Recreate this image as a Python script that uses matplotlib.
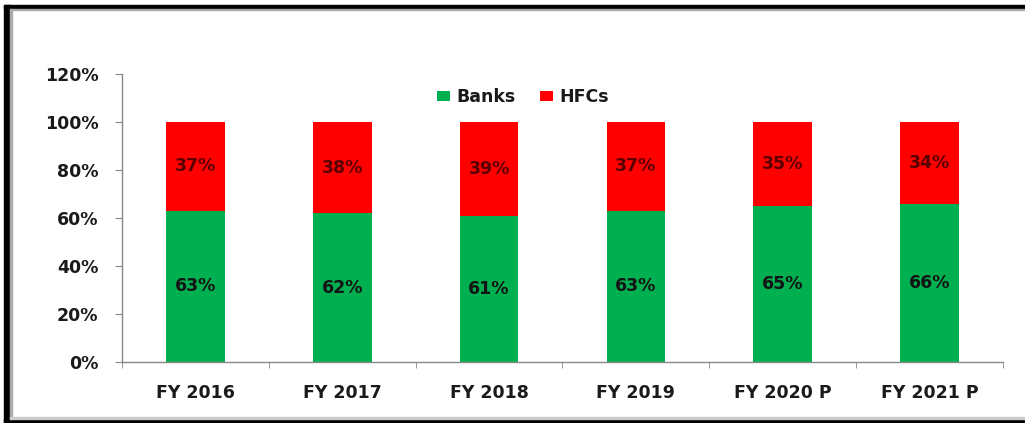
import matplotlib.pyplot as plt
from matplotlib.patches import Rectangle
from matplotlib.ticker import FixedLocator, PercentFormatter
import numpy as np

plt.rcParams['font.family'] = ['DejaVu Sans']

years = ['FY 2016', 'FY 2017', 'FY 2018', 'FY 2019', 'FY 2020 P', 'FY 2021 P']
banks = [63, 62, 61, 63, 65, 66]
hfcs = [37, 38, 39, 37, 35, 34]

green = '#00B050'
red = '#FF0000'
fs = 12.5

fig = plt.figure(figsize=(10.25, 4.23), dpi=100)
ax = fig.add_axes([122 / 1025, 1 - 362 / 423, 881 / 1025, 288 / 423])

x = np.arange(len(years))
ax.bar(x, banks, width=0.4, color=green, label='Banks')
ax.bar(x, hfcs, width=0.4, bottom=banks, color=red, label='HFCs')

for i in range(len(years)):
    ax.text(x[i], banks[i] / 2, f'{banks[i]}%', ha='center', va='center',
            fontsize=fs, fontweight='bold', color='#141414')
    ax.text(x[i], banks[i] + hfcs[i] / 2, f'{hfcs[i]}%', ha='center', va='center',
            fontsize=fs, fontweight='bold', color='#5a0000')

ax.set_xlim(-0.5, len(years) - 0.5)
ax.set_ylim(0, 120)
ax.set_yticks(range(0, 121, 20))
ax.yaxis.set_major_formatter(PercentFormatter(decimals=0))
ax.set_xticks(x)
ax.set_xticklabels(years)
ax.xaxis.set_minor_locator(FixedLocator(np.arange(-0.5, len(years), 1)))
ax.tick_params(axis='x', which='major', length=0, pad=16)
ax.tick_params(axis='x', which='minor', length=4, color='#888888', direction='out')
ax.tick_params(axis='y', length=5, color='#888888', pad=12)
for lab in ax.get_xticklabels() + ax.get_yticklabels():
    lab.set_fontweight('bold')
    lab.set_fontsize(fs)
    lab.set_color('#1a1a1a')

for side in ['top', 'right']:
    ax.spines[side].set_visible(False)
for side in ['left', 'bottom']:
    ax.spines[side].set_color('#888888')
    ax.spines[side].set_linewidth(1)

leg = ax.legend(loc='upper center', bbox_to_anchor=(0.455, 1.005), ncol=2,
                frameon=False, handlelength=0.75, handleheight=0.5,
                handletextpad=0.35, columnspacing=1.4,
                prop={'weight': 'bold', 'size': fs})
for t in leg.get_texts():
    t.set_color('#1a1a1a')

# frame around the whole figure: black outer line with a gray inner line
W, H = 1025, 423
def px_rect(x0, y0, w, h, color):
    fig.patches.append(Rectangle((x0 / W, 1 - (y0 + h) / H), w / W, h / H,
                                 transform=fig.transFigure, color=color, zorder=10))

px_rect(4, 5, W - 4, 4, 'black')
px_rect(4, 5, 6, H - 5, 'black')
px_rect(4, H - 4, W - 4, 4, 'black')
px_rect(10, 9, W - 10, 1.5, '#aaaaaa')
px_rect(10, 9, 1.5, H - 13, '#aaaaaa')
px_rect(10, H - 6, W - 10, 1.5, '#cccccc')

fig.savefig('out.png', dpi=100)
